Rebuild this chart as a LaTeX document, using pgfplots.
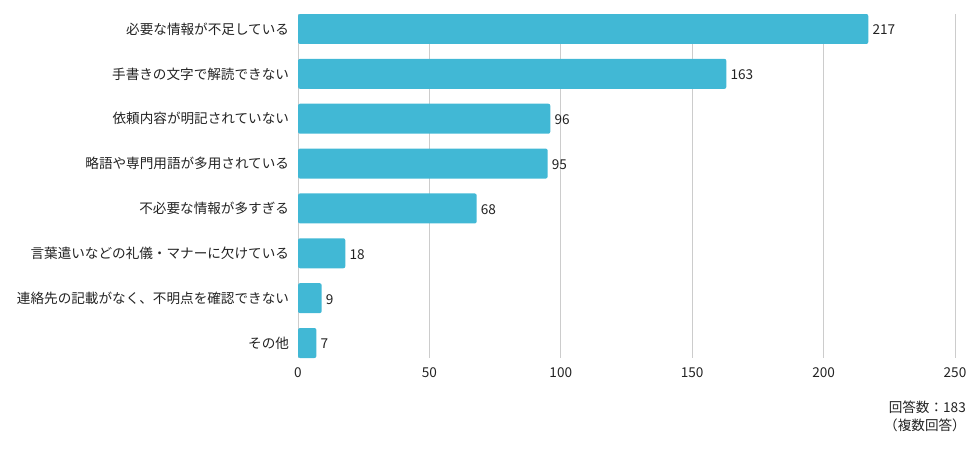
\documentclass[border=0pt]{standalone}
\usepackage{fontspec}
\setmainfont{Noto Sans CJK JP}
\usepackage{pgfplots}
\pgfplotsset{compat=1.18}
\definecolor{barblue}{HTML}{41B8D5}
\definecolor{gridgray}{HTML}{CCCCCC}
\definecolor{textc}{HTML}{222222}

\begin{document}
\fontsize{13.6pt}{18pt}\selectfont
\begin{tikzpicture}
\path[use as bounding box] (0pt,0pt) rectangle (976pt,459pt);
\begin{axis}[
  at={(298pt,101pt)}, anchor=south west,
  scale only axis, width=657pt, height=344pt,
  xbar, bar width=30pt,
  xmin=0, xmax=250, ymin=-0.334, ymax=7.334, y dir=reverse,
  ytick={0,...,7},
  yticklabels={必要な情報が不足している, 手書きの文字で解読できない, 依頼内容が明記されていない, 略語や専門用語が多用されている, 不必要な情報が多すぎる, 言葉遣いなどの礼儀・マナーに欠けている, 連絡先の記載がなく、不明点を確認できない, その他},
  xtick={0,50,...,250},
  xmajorgrids, grid style={gridgray, line width=1pt},
  axis line style={draw=none},
  tick style={draw=none},
  /pgf/number format/assume math mode=true,
  ticklabel style={font=\fontsize{13.6pt}{15pt}\selectfont, text=textc},
  yticklabel style={xshift=0pt},
  xticklabel style={yshift=-5pt},
  nodes near coords,
  nodes near coords style={anchor=west, xshift=-0.5pt, yshift=-1pt, font=\fontsize{13.6pt}{15pt}\selectfont, text=textc},
]
\addplot[fill=barblue, draw=none, rounded corners=2pt]
  coordinates {(217,0) (163,1) (96,2) (95,3) (68,4) (18,5) (9,6) (7,7)};
\end{axis}
\node[anchor=north east, align=right, inner sep=0pt, text=textc,
      font=\fontsize{13.6pt}{18pt}\selectfont] at (966pt,58pt)
  {回答数：183\\（複数回答）};
\end{tikzpicture}
\end{document}
